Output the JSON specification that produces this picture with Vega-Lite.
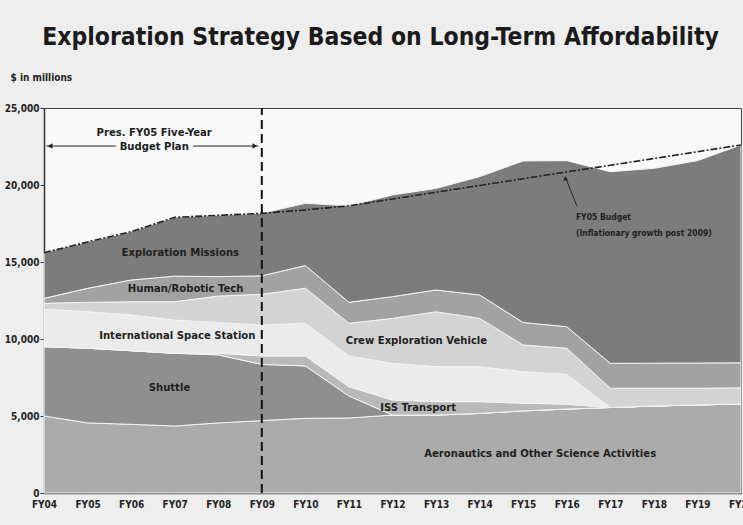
{
  "$schema": "https://vega.github.io/schema/vega-lite/v6.json",
  "width": 697,
  "height": 385,
  "autosize": {"type": "none"},
  "padding": {"left": 44, "top": 108, "right": 2, "bottom": 32},
  "background": "#eeeeee",
  "config": {
    "view": {"fill": "#f9f9f9", "stroke": "#444444", "strokeWidth": 1},
    "font": "DejaVu Sans Condensed, Liberation Sans Narrow, sans-serif"
  },
  "title": {
    "text": "Exploration Strategy Based on Long-Term Affordability",
    "fontSize": 24.5,
    "fontWeight": "bold",
    "font": "DejaVu Sans Condensed, Liberation Sans Narrow, sans-serif",
    "color": "#1b1b1b",
    "anchor": "middle",
    "frame": "group",
    "baseline": "alphabetic",
    "offset": 3,
    "dx": -12
  },
  "datasets": {
    "areas": [
      {"year":2004,"series":"Aeronautics and Other Science Activities","order":1,"value":5000},
      {"year":2004,"series":"Shuttle","order":2,"value":4500},
      {"year":2004,"series":"ISS Transport","order":3,"value":0},
      {"year":2004,"series":"International Space Station","order":4,"value":2430},
      {"year":2004,"series":"Crew Exploration Vehicle","order":5,"value":390},
      {"year":2004,"series":"Human/Robotic Tech","order":6,"value":320},
      {"year":2004,"series":"Exploration Missions","order":7,"value":2960},
      {"year":2005,"series":"Aeronautics and Other Science Activities","order":1,"value":4550},
      {"year":2005,"series":"Shuttle","order":2,"value":4850},
      {"year":2005,"series":"ISS Transport","order":3,"value":0},
      {"year":2005,"series":"International Space Station","order":4,"value":2370},
      {"year":2005,"series":"Crew Exploration Vehicle","order":5,"value":610},
      {"year":2005,"series":"Human/Robotic Tech","order":6,"value":910},
      {"year":2005,"series":"Exploration Missions","order":7,"value":3010},
      {"year":2006,"series":"Aeronautics and Other Science Activities","order":1,"value":4460},
      {"year":2006,"series":"Shuttle","order":2,"value":4780},
      {"year":2006,"series":"ISS Transport","order":3,"value":0},
      {"year":2006,"series":"International Space Station","order":4,"value":2320},
      {"year":2006,"series":"Crew Exploration Vehicle","order":5,"value":860},
      {"year":2006,"series":"Human/Robotic Tech","order":6,"value":1410},
      {"year":2006,"series":"Exploration Missions","order":7,"value":3140},
      {"year":2007,"series":"Aeronautics and Other Science Activities","order":1,"value":4350},
      {"year":2007,"series":"Shuttle","order":2,"value":4720},
      {"year":2007,"series":"ISS Transport","order":3,"value":0},
      {"year":2007,"series":"International Space Station","order":4,"value":2160},
      {"year":2007,"series":"Crew Exploration Vehicle","order":5,"value":1190},
      {"year":2007,"series":"Human/Robotic Tech","order":6,"value":1660},
      {"year":2007,"series":"Exploration Missions","order":7,"value":3820},
      {"year":2008,"series":"Aeronautics and Other Science Activities","order":1,"value":4550},
      {"year":2008,"series":"Shuttle","order":2,"value":4420},
      {"year":2008,"series":"ISS Transport","order":3,"value":100},
      {"year":2008,"series":"International Space Station","order":4,"value":1990},
      {"year":2008,"series":"Crew Exploration Vehicle","order":5,"value":1730},
      {"year":2008,"series":"Human/Robotic Tech","order":6,"value":1260},
      {"year":2008,"series":"Exploration Missions","order":7,"value":3980},
      {"year":2009,"series":"Aeronautics and Other Science Activities","order":1,"value":4700},
      {"year":2009,"series":"Shuttle","order":2,"value":3650},
      {"year":2009,"series":"ISS Transport","order":3,"value":550},
      {"year":2009,"series":"International Space Station","order":4,"value":2010},
      {"year":2009,"series":"Crew Exploration Vehicle","order":5,"value":1990},
      {"year":2009,"series":"Human/Robotic Tech","order":6,"value":1200},
      {"year":2009,"series":"Exploration Missions","order":7,"value":4060},
      {"year":2010,"series":"Aeronautics and Other Science Activities","order":1,"value":4850},
      {"year":2010,"series":"Shuttle","order":2,"value":3400},
      {"year":2010,"series":"ISS Transport","order":3,"value":650},
      {"year":2010,"series":"International Space Station","order":4,"value":2120},
      {"year":2010,"series":"Crew Exploration Vehicle","order":5,"value":2280},
      {"year":2010,"series":"Human/Robotic Tech","order":6,"value":1470},
      {"year":2010,"series":"Exploration Missions","order":7,"value":4040},
      {"year":2011,"series":"Aeronautics and Other Science Activities","order":1,"value":4870},
      {"year":2011,"series":"Shuttle","order":2,"value":1430},
      {"year":2011,"series":"ISS Transport","order":3,"value":600},
      {"year":2011,"series":"International Space Station","order":4,"value":2000},
      {"year":2011,"series":"Crew Exploration Vehicle","order":5,"value":2120},
      {"year":2011,"series":"Human/Robotic Tech","order":6,"value":1360},
      {"year":2011,"series":"Exploration Missions","order":7,"value":6270},
      {"year":2012,"series":"Aeronautics and Other Science Activities","order":1,"value":5060},
      {"year":2012,"series":"Shuttle","order":2,"value":0},
      {"year":2012,"series":"ISS Transport","order":3,"value":980},
      {"year":2012,"series":"International Space Station","order":4,"value":2380},
      {"year":2012,"series":"Crew Exploration Vehicle","order":5,"value":2920},
      {"year":2012,"series":"Human/Robotic Tech","order":6,"value":1410},
      {"year":2012,"series":"Exploration Missions","order":7,"value":6600},
      {"year":2013,"series":"Aeronautics and Other Science Activities","order":1,"value":5060},
      {"year":2013,"series":"Shuttle","order":2,"value":0},
      {"year":2013,"series":"ISS Transport","order":3,"value":870},
      {"year":2013,"series":"International Space Station","order":4,"value":2270},
      {"year":2013,"series":"Crew Exploration Vehicle","order":5,"value":3570},
      {"year":2013,"series":"Human/Robotic Tech","order":6,"value":1410},
      {"year":2013,"series":"Exploration Missions","order":7,"value":6600},
      {"year":2014,"series":"Aeronautics and Other Science Activities","order":1,"value":5170},
      {"year":2014,"series":"Shuttle","order":2,"value":0},
      {"year":2014,"series":"ISS Transport","order":3,"value":760},
      {"year":2014,"series":"International Space Station","order":4,"value":2270},
      {"year":2014,"series":"Crew Exploration Vehicle","order":5,"value":3140},
      {"year":2014,"series":"Human/Robotic Tech","order":6,"value":1520},
      {"year":2014,"series":"Exploration Missions","order":7,"value":7680},
      {"year":2015,"series":"Aeronautics and Other Science Activities","order":1,"value":5330},
      {"year":2015,"series":"Shuttle","order":2,"value":0},
      {"year":2015,"series":"ISS Transport","order":3,"value":500},
      {"year":2015,"series":"International Space Station","order":4,"value":2050},
      {"year":2015,"series":"Crew Exploration Vehicle","order":5,"value":1730},
      {"year":2015,"series":"Human/Robotic Tech","order":6,"value":1460},
      {"year":2015,"series":"Exploration Missions","order":7,"value":10490},
      {"year":2016,"series":"Aeronautics and Other Science Activities","order":1,"value":5450},
      {"year":2016,"series":"Shuttle","order":2,"value":0},
      {"year":2016,"series":"ISS Transport","order":3,"value":320},
      {"year":2016,"series":"International Space Station","order":4,"value":1930},
      {"year":2016,"series":"Crew Exploration Vehicle","order":5,"value":1700},
      {"year":2016,"series":"Human/Robotic Tech","order":6,"value":1400},
      {"year":2016,"series":"Exploration Missions","order":7,"value":10780},
      {"year":2017,"series":"Aeronautics and Other Science Activities","order":1,"value":5550},
      {"year":2017,"series":"Shuttle","order":2,"value":0},
      {"year":2017,"series":"ISS Transport","order":3,"value":0},
      {"year":2017,"series":"International Space Station","order":4,"value":0},
      {"year":2017,"series":"Crew Exploration Vehicle","order":5,"value":1250},
      {"year":2017,"series":"Human/Robotic Tech","order":6,"value":1620},
      {"year":2017,"series":"Exploration Missions","order":7,"value":12440},
      {"year":2018,"series":"Aeronautics and Other Science Activities","order":1,"value":5650},
      {"year":2018,"series":"Shuttle","order":2,"value":0},
      {"year":2018,"series":"ISS Transport","order":3,"value":0},
      {"year":2018,"series":"International Space Station","order":4,"value":0},
      {"year":2018,"series":"Crew Exploration Vehicle","order":5,"value":1150},
      {"year":2018,"series":"Human/Robotic Tech","order":6,"value":1630},
      {"year":2018,"series":"Exploration Missions","order":7,"value":12650},
      {"year":2019,"series":"Aeronautics and Other Science Activities","order":1,"value":5720},
      {"year":2019,"series":"Shuttle","order":2,"value":0},
      {"year":2019,"series":"ISS Transport","order":3,"value":0},
      {"year":2019,"series":"International Space Station","order":4,"value":0},
      {"year":2019,"series":"Crew Exploration Vehicle","order":5,"value":1080},
      {"year":2019,"series":"Human/Robotic Tech","order":6,"value":1640},
      {"year":2019,"series":"Exploration Missions","order":7,"value":13140},
      {"year":2020,"series":"Aeronautics and Other Science Activities","order":1,"value":5780},
      {"year":2020,"series":"Shuttle","order":2,"value":0},
      {"year":2020,"series":"ISS Transport","order":3,"value":0},
      {"year":2020,"series":"International Space Station","order":4,"value":0},
      {"year":2020,"series":"Crew Exploration Vehicle","order":5,"value":1050},
      {"year":2020,"series":"Human/Robotic Tech","order":6,"value":1620},
      {"year":2020,"series":"Exploration Missions","order":7,"value":14150}
    ],
    "budget": [
      {"year":2004,"value":15600},{"year":2005,"value":16300},{"year":2006,"value":16970},
      {"year":2007,"value":17900},{"year":2008,"value":18030},{"year":2009,"value":18160},
      {"year":2010,"value":18380},{"year":2011,"value":18650},{"year":2012,"value":19090},
      {"year":2013,"value":19530},{"year":2014,"value":19970},{"year":2015,"value":20410},
      {"year":2016,"value":20850},{"year":2017,"value":21280},{"year":2018,"value":21720},
      {"year":2019,"value":22160},{"year":2020,"value":22600}
    ],
    "labels": [
      {"year":2007.13,"value":15600,"text":"Exploration Missions"},
      {"year":2007.25,"value":13250,"text":"Human/Robotic Tech"},
      {"year":2007.06,"value":10200,"text":"International Space Station"},
      {"year":2006.88,"value":6840,"text":"Shuttle"},
      {"year":2012.55,"value":9870,"text":"Crew Exploration Vehicle"},
      {"year":2012.59,"value":5520,"text":"ISS Transport"},
      {"year":2015.39,"value":2510,"text":"Aeronautics and Other Science Activities"},
      {"year":2006.53,"value":23360,"text":"Pres. FY05 Five-Year"},
      {"year":2006.53,"value":22450,"text":"Budget Plan"}
    ],
    "notes": [
      {"year":2016.21,"value":17940,"text":"FY05 Budget"},
      {"year":2016.21,"value":16860,"text":"(Inflationary growth post 2009)"}
    ],
    "divider": [{"year":2009,"value":0,"value2":25000}],
    "spans": [
      {"year":2004.05,"year2":2005.65,"value":22530},
      {"year":2007.42,"year2":2008.92,"value":22530}
    ],
    "heads": [
      {"year":2004.14,"value":22530,"shape":"triangle-left"},
      {"year":2008.84,"value":22530,"shape":"triangle-right"}
    ],
    "pointer": [{"year":2016.23,"value":18660,"year2":2015.99,"value2":20350}],
    "pointerHead": [{"year":2015.97,"value":20430}]
  },
  "encoding": {
    "x": {
      "field": "year",
      "type": "quantitative",
      "scale": {"domain": [2004, 2020], "nice": false, "zero": false},
      "axis": {
        "title": null,
        "values": [2004,2005,2006,2007,2008,2009,2010,2011,2012,2013,2014,2015,2016,2017,2018,2019,2020],
        "labelExpr": "'FY' + substring(toString(datum.value), 2, 4)",
        "labelFlush": false,
        "labelFontSize": 10,
        "labelFontWeight": "bold",
        "labelColor": "#222222",
        "labelPadding": 12,
        "tickSize": -6,
        "tickColor": "#333333",
        "domainColor": "#333333",
        "domainWidth": 1.5,
        "grid": false
      }
    },
    "y": {
      "field": "value",
      "type": "quantitative",
      "scale": {"domain": [0, 25000], "nice": false},
      "axis": {
        "title": "$ in millions",
        "titleAngle": 0,
        "titleAlign": "left",
        "titleBaseline": "middle",
        "titleX": -34,
        "titleY": -31,
        "titleFontSize": 10,
        "titleFontWeight": "bold",
        "titleColor": "#222222",
        "values": [0, 5000, 10000, 15000, 20000, 25000],
        "format": ",.0f",
        "labelFontSize": 10,
        "labelFontWeight": "bold",
        "labelColor": "#222222",
        "labelPadding": 1,
        "tickSize": 4,
        "tickColor": "#333333",
        "domainColor": "#333333",
        "domainWidth": 1.5,
        "grid": false
      }
    }
  },
  "layer": [
    {
      "data": {"name": "areas"},
      "mark": {"type": "area", "stroke": "#f4f4f4", "strokeWidth": 1},
      "encoding": {
        "color": {
          "field": "series",
          "type": "nominal",
          "legend": null,
          "scale": {
            "domain": ["Aeronautics and Other Science Activities","Shuttle","ISS Transport","International Space Station","Crew Exploration Vehicle","Human/Robotic Tech","Exploration Missions"],
            "range": ["#ababab","#8f8f8f","#b9b9b9","#ebebeb","#d3d3d3","#a2a2a2","#7c7c7c"]
          }
        },
        "order": {"field": "order", "type": "quantitative"}
      }
    },
    {
      "data": {"name": "budget"},
      "mark": {"type": "line", "color": "#222222", "strokeWidth": 1.6, "strokeDash": [7, 2, 2, 2]},
      "encoding": {}
    },
    {
      "data": {"name": "divider"},
      "mark": {"type": "rule", "color": "#111111", "strokeWidth": 2, "strokeDash": [9, 5]},
      "encoding": {"y2": {"field": "value2"}}
    },
    {
      "data": {"name": "spans"},
      "mark": {"type": "rule", "color": "#222222", "strokeWidth": 1},
      "encoding": {"x2": {"field": "year2"}}
    },
    {
      "data": {"name": "heads"},
      "mark": {"type": "point", "filled": true, "color": "#222222", "size": 30, "opacity": 1},
      "encoding": {"shape": {"field": "shape", "type": "nominal", "scale": null, "legend": null}}
    },
    {
      "data": {"name": "pointer"},
      "mark": {"type": "rule", "color": "#222222", "strokeWidth": 1},
      "encoding": {"x2": {"field": "year2"}, "y2": {"field": "value2"}}
    },
    {
      "data": {"name": "pointerHead"},
      "mark": {"type": "point", "filled": true, "color": "#222222", "size": 25, "shape": "triangle-up", "angle": -8, "opacity": 1},
      "encoding": {}
    },
    {
      "data": {"name": "labels"},
      "mark": {"type": "text", "fontSize": 11.2, "fontWeight": "bold", "color": "#1e1e1e", "align": "center", "baseline": "middle"},
      "encoding": {"text": {"field": "text"}}
    },
    {
      "data": {"name": "notes"},
      "mark": {"type": "text", "fontSize": 8.5, "fontWeight": "bold", "color": "#1e1e1e", "align": "left", "baseline": "middle"},
      "encoding": {"text": {"field": "text"}}
    }
  ]
}
